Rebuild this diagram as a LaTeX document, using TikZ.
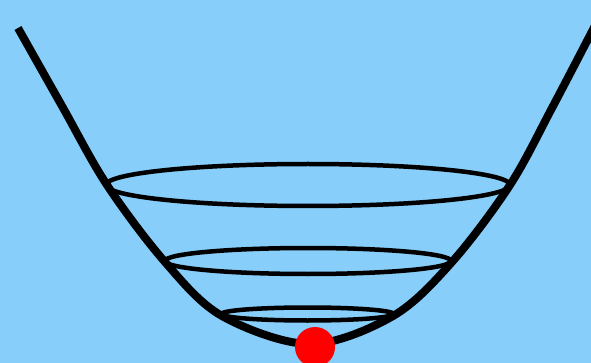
\documentclass[tikz,border=0pt]{standalone}
\definecolor{bgblue}{RGB}{135,206,250}
\begin{document}
\begin{tikzpicture}[x=1pt,y=-1pt,
  bowl/.style={line width=8pt,line join=round},
  ring/.style={line width=4.5pt},
  ball/.style={fill=red,draw=none}]
\fill[bgblue] (0,0) rectangle (591,363);
\useasboundingbox (0,0) rectangle (591,363);
\begin{scope}
\clip (0,0) rectangle (591,363);
\draw[ring] (308,185) ellipse [x radius=202, y radius=21];
\draw[ring] (308,261) ellipse [x radius=143, y radius=13];
\draw[ring] (307.5,314) ellipse [x radius=86, y radius=6.5];
\draw[bowl] plot[smooth,tension=0.55] coordinates {(18,28) (62,106) (107,185) (165,262) (222,316) (310,344) (393,316) (452,262) (510,185) (552,108) (600,16)};
\coordinate (c) at (315,347);
\fill[ball] (c) circle (20);
\end{scope}
\end{tikzpicture}
\end{document}
